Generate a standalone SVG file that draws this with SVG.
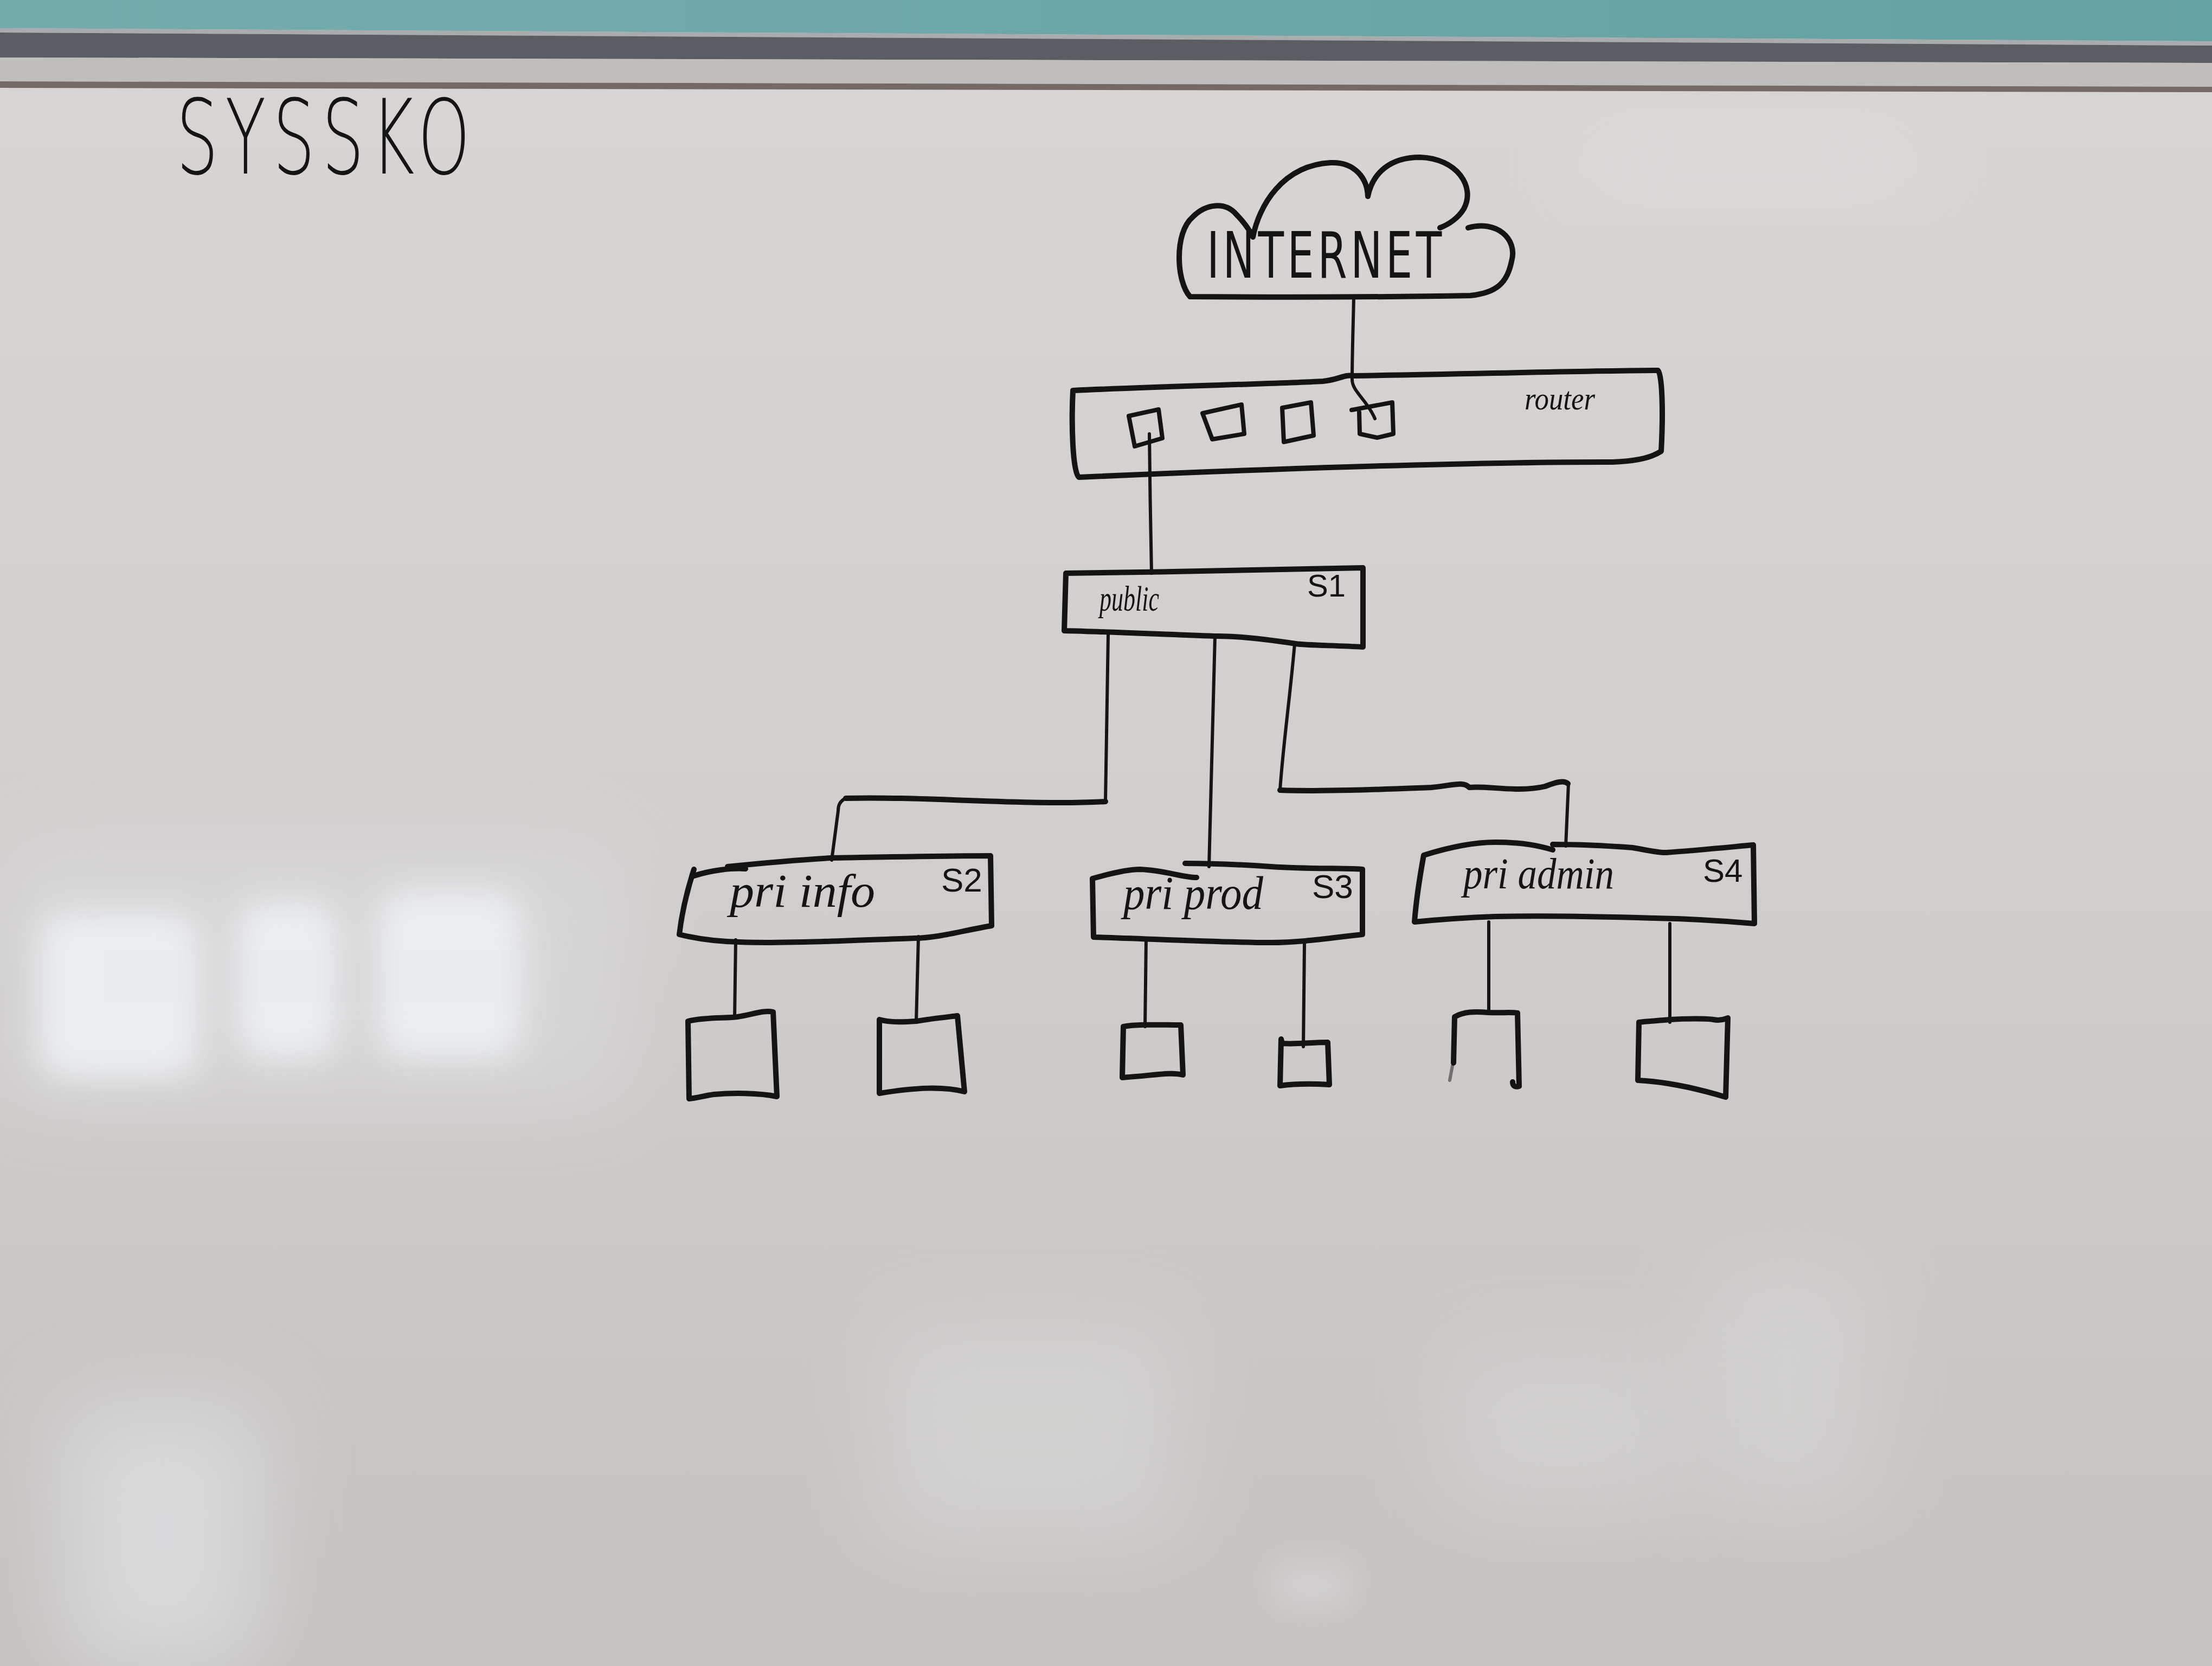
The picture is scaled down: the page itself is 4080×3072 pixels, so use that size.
<svg xmlns="http://www.w3.org/2000/svg" width="4080" height="3072" viewBox="0 0 4080 3072">
<defs>
  <linearGradient id="board" x1="0" y1="0" x2="0" y2="1">
    <stop offset="0" stop-color="#d8d5d4"/>
    <stop offset="0.5" stop-color="#d1cecd"/>
    <stop offset="1" stop-color="#c5c1c0"/>
  </linearGradient>
  <linearGradient id="teal" x1="0" y1="0" x2="1" y2="0">
    <stop offset="0" stop-color="#74acae"/>
    <stop offset="1" stop-color="#64a1a3"/>
  </linearGradient>
  <filter id="blur" x="-50%" y="-50%" width="200%" height="200%">
    <feGaussianBlur stdDeviation="30"/>
  </filter>
  <filter id="blurBig" x="-50%" y="-50%" width="200%" height="200%">
    <feGaussianBlur stdDeviation="80"/>
  </filter>
</defs>
<style>
  .ink{fill:none;stroke:#141414;stroke-width:10;stroke-linecap:round;stroke-linejoin:round}
  .thin{fill:none;stroke:#141414;stroke-width:6;stroke-linecap:round;stroke-linejoin:round}
  .port{fill:none;stroke:#141414;stroke-width:8;stroke-linecap:round;stroke-linejoin:round}
  .caps{font-family:"DejaVu Sans","Liberation Sans",sans-serif;fill:#141414}
  .script{font-family:"Liberation Serif","DejaVu Serif",serif;font-style:italic;fill:#141414}
  .tag{font-family:"Liberation Sans","DejaVu Sans",sans-serif;fill:#141414}
</style>

<!-- background: whiteboard -->
<rect x="0" y="0" width="4080" height="3072" fill="url(#board)"/>
<g id="reflections">
  <rect x="70" y="1680" width="300" height="310" rx="60" fill="#f1f4f8" opacity="0.9" filter="url(#blur)"/>
  <rect x="435" y="1660" width="190" height="295" rx="60" fill="#f1f4f8" opacity="0.9" filter="url(#blur)"/>
  <rect x="695" y="1640" width="270" height="315" rx="60" fill="#f1f4f8" opacity="0.9" filter="url(#blur)"/>
  <rect x="0" y="1560" width="1150" height="480" fill="#e4e6ea" opacity="0.35" filter="url(#blurBig)"/>
  <rect x="2900" y="250" width="650" height="110" fill="#eceef0" opacity="0.3" filter="url(#blurBig)"/>
  <rect x="120" y="2600" width="360" height="480" fill="#e6eaee" opacity="0.55" filter="url(#blurBig)"/>
  <rect x="1620" y="2440" width="560" height="420" fill="#dfe2e2" opacity="0.4" filter="url(#blurBig)"/>
  <rect x="2660" y="2480" width="440" height="320" fill="#dfe2e2" opacity="0.35" filter="url(#blurBig)"/>
  <rect x="3130" y="2330" width="330" height="470" fill="#dfe2e2" opacity="0.35" filter="url(#blurBig)"/>
  <rect x="2345" y="2880" width="150" height="90" fill="#e2e5e5" opacity="0.4" filter="url(#blur)"/>
</g>

<!-- top of the board: wall and frame -->
<g id="frame">
  <polygon points="0,0 4080,0 4080,76 0,52" fill="url(#teal)"/>
  <polygon points="0,52 4080,76 4080,84 0,60" fill="#a9acac"/>
  <polygon points="0,60 4080,84 4080,116 0,106" fill="#5a5d61"/>
  <polygon points="0,106 4080,116 4080,160 0,150" fill="#c0bebc"/>
  <polygon points="0,150 4080,160 4080,170 0,162" fill="#746965"/>
</g>

<!-- title -->
<g id="title">
  <text class="caps" x="325" y="320" font-size="190" font-weight="200" letter-spacing="20" textLength="555" lengthAdjust="spacingAndGlyphs">SYSSKO</text>
</g>

<!-- connectors -->
<g id="connectors">
  <path class="thin" d="M2497,547 C2496,600 2494,650 2494,700 C2494,722 2522,738 2536,772"/>
  <path class="thin" d="M2120,800 C2121,880 2122,980 2124,1057"/>
  <path class="thin" d="M2044,1170 L2039,1478"/>
  <path class="ink" d="M2039,1478 C1900,1486 1700,1468 1560,1472"/>
  <path class="thin" d="M1556,1474 C1548,1480 1546,1486 1546,1495 L1534,1586"/>
  <path class="thin" d="M2241,1173 L2230,1598"/>
  <path class="thin" d="M2388,1187 C2380,1280 2366,1380 2361,1457"/>
  <path class="ink" d="M2361,1457 C2450,1460 2560,1455 2640,1452 C2680,1448 2700,1440 2710,1452 C2740,1448 2800,1462 2850,1450 C2870,1442 2885,1438 2892,1445"/>
  <path class="thin" d="M2893,1445 L2888,1560"/>
  <path class="thin" d="M1357,1733 L1355,1877"/>
  <path class="thin" d="M1694,1727 L1690,1883"/>
  <path class="thin" d="M2114,1730 L2112,1893"/>
  <path class="thin" d="M2406,1740 L2404,1930"/>
  <path class="thin" d="M2746,1700 L2746,1867"/>
  <path class="thin" d="M3080,1703 L3080,1885"/>
</g>

<!-- internet cloud -->
<g id="internet">
  <path class="ink" d="M2195,547 C2170,520 2165,430 2200,400 C2225,375 2260,372 2280,395 C2295,410 2305,425 2311,437 C2322,380 2365,305 2454,300 C2500,298 2522,330 2523,362 C2532,318 2565,290 2619,290 C2688,292 2722,345 2700,385 C2690,402 2672,414 2656,420 M2708,420 C2760,405 2800,440 2788,482 C2780,522 2760,540 2712,545 C2550,548 2350,548 2195,547"/>
  <text class="caps" x="2226" y="512" font-size="118" letter-spacing="10" textLength="440" lengthAdjust="spacingAndGlyphs">INTERNET</text>
</g>

<!-- router -->
<g id="router">
  <path class="ink" d="M1979,720 C2150,712 2350,708 2440,703 C2470,700 2480,690 2495,693 C2700,690 2900,684 3058,683 C3066,690 3068,760 3064,832 C3040,848 3000,852 2960,852 C2700,852 2300,866 1990,880 C1978,870 1976,780 1979,720 Z"/>
  <path class="port" d="M2082,767 L2137,755 L2144,808 L2093,823 Z"/>
  <path class="port" d="M2218,762 L2290,746 L2295,800 L2236,810 Z"/>
  <path class="port" d="M2365,752 L2418,742 L2423,803 L2368,815 Z"/>
  <path class="port" d="M2493,756 L2568,742 L2570,800 L2540,807 L2508,800 L2507,760"/>
  <text class="script" x="2812" y="755" font-size="60" textLength="130" lengthAdjust="spacingAndGlyphs">router</text>
</g>

<!-- switch S1 -->
<g id="s1">
  <path class="ink" d="M1966,1057 C2150,1055 2350,1050 2514,1047 L2514,1193 C2460,1190 2410,1190 2390,1187 C2330,1178 2280,1172 2240,1173 C2150,1170 2050,1165 1963,1163 Z"/>
  <text class="script" x="2028" y="1126" font-size="66" textLength="110" lengthAdjust="spacingAndGlyphs">public</text>
  <text class="tag" x="2411" y="1100" font-size="58">S1</text>
</g>

<!-- switch S2 -->
<g id="s2">
  <path class="ink" d="M1280,1615 C1310,1605 1350,1600 1375,1602 M1342,1598 C1420,1590 1480,1585 1533,1582 C1650,1580 1750,1578 1827,1578 L1829,1707 C1780,1715 1730,1730 1686,1730 C1550,1735 1450,1740 1363,1737 C1320,1736 1280,1730 1253,1723 C1258,1680 1268,1640 1280,1603"/>
  <text class="script" x="1346" y="1672" font-size="86" textLength="268" lengthAdjust="spacingAndGlyphs">pri info</text>
  <text class="tag" x="1736" y="1644" font-size="62">S2</text>
</g>

<!-- switch S3 -->
<g id="s3">
  <path class="ink" d="M2015,1620 C2050,1610 2080,1603 2103,1603 C2150,1605 2180,1618 2207,1618 M2186,1592 C2250,1592 2300,1595 2344,1598 C2420,1603 2470,1600 2513,1603 L2513,1723 C2450,1730 2400,1738 2344,1738 C2250,1738 2100,1730 2017,1728 L2015,1620"/>
  <text class="script" x="2072" y="1676" font-size="86" textLength="258" lengthAdjust="spacingAndGlyphs">pri prod</text>
  <text class="tag" x="2420" y="1656" font-size="62">S3</text>
</g>

<!-- switch S4 -->
<g id="s4">
  <path class="ink" d="M2626,1577 C2680,1560 2720,1553 2758,1553 C2810,1553 2840,1560 2864,1567 M2864,1557 C2920,1557 2970,1560 3011,1563 C3040,1568 3060,1573 3074,1572 C3130,1568 3190,1562 3234,1558 L3236,1703 C3180,1698 3100,1694 3053,1693 C2950,1690 2850,1688 2758,1690 C2700,1692 2650,1696 2609,1700 C2612,1660 2620,1610 2626,1577"/>
  <text class="script" x="2699" y="1638" font-size="80" textLength="278" lengthAdjust="spacingAndGlyphs">pri admin</text>
  <text class="tag" x="3141" y="1626" font-size="60">S4</text>
</g>

<!-- end devices -->
<g id="pc1"><path class="ink" d="M1269,1883 C1300,1875 1340,1878 1360,1875 C1390,1870 1410,1862 1426,1866 L1433,2022 C1400,2015 1350,2015 1317,2018 C1300,2020 1285,2025 1271,2026 Z"/></g>
<g id="pc2"><path class="ink" d="M1622,1880 C1640,1885 1660,1885 1690,1883 C1720,1878 1750,1875 1766,1873 L1779,2013 C1740,2003 1690,2005 1622,2016 Z"/></g>
<g id="pc3"><path class="ink" d="M2072,1893 C2100,1888 2140,1890 2178,1890 L2182,1982 C2160,1976 2130,1983 2070,1987 Z"/></g>
<g id="pc4"><path class="ink" d="M2363,1916 L2365,1924 C2390,1926 2420,1922 2449,1922 L2452,2000 C2420,1998 2390,1998 2361,2002 Z"/></g>
<g id="pc5"><path class="ink" d="M2681,1960 L2683,1875 C2700,1865 2720,1865 2745,1867 C2770,1868 2790,1866 2799,1868 L2802,2003 C2795,2005 2790,2003 2790,1995"/><path class="thin" d="M2679,1965 L2674,1992" opacity="0.5"/></g>
<g id="pc6"><path class="ink" d="M3023,1885 C3040,1883 3060,1882 3080,1880 C3110,1878 3150,1878 3160,1880 C3170,1882 3180,1880 3187,1877 L3183,2023 C3140,2010 3080,1995 3021,1992 Z"/></g>
</svg>
